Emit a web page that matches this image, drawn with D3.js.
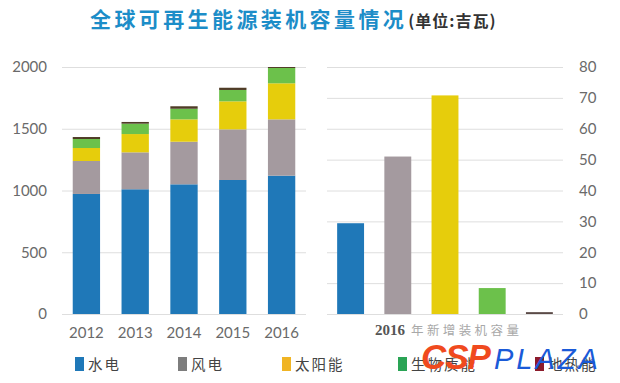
<!DOCTYPE html>
<html>
<head>
<meta charset="utf-8">
<script src="https://cdn.jsdelivr.net/npm/d3@7"></script>
<style>
  html, body { margin: 0; padding: 0; background: #fff; }
  svg { display: block; }
</style>
</head>
<body>
<svg id="chart" width="620" height="383"></svg>
<script>
// ---- data ----
const years = ["2012", "2013", "2014", "2015", "2016"];
const seriesNames = ["水电", "风电", "太阳能", "生物质能", "地热能"];
const hydro = [972, 1010, 1050, 1085, 1120];
const wind = [267, 299, 345, 410, 456];
const solar = [105, 148, 181, 227, 292];
const biomass = [73, 84, 86, 92, 124];
const geothermal = [16, 14, 20, 18, 8];
const added2016 = [29.4, 51, 70.8, 8.4, 0.6];
const leftTicks = [0, 500, 1000, 1500, 2000];
const rightTicks = [0, 10, 20, 30, 40, 50, 60, 70, 80];
const titleMain = "全球可再生能源装机容量情况";
const titleUnit = "(单位:吉瓦)";
const rightLabelYear = "2016";
const rightLabelText = "年新增装机容量";

// ---- styles / layout ----
const barColors = ["#1f78b8", "#a49a9f", "#e6cd0c", "#6cc14b", "#4f3c26"];
const rightBarColors = ["#1f78b8", "#a49a9f", "#e6cd0c", "#6cc14b", "#5b4a47"];
const legendColors = ["#1f78b8", "#7d7d7d", "#f0b424", "#2aa455", "#8c1b2b"];
const legendX = [75, 178, 282, 398, 535];
const numFont = "Lato, 'Open Sans', sans-serif";

const svg = d3.select("#chart");
const seriesValues = [hydro, wind, solar, biomass, geothermal];
const table = years.map((y, i) => {
  const o = { year: y };
  seriesNames.forEach((s, j) => { o[s] = seriesValues[j][i]; });
  return o;
});
const stacked = d3.stack().keys(seriesNames)(table);

const yL = d3.scaleLinear().domain([0, 2000]).range([314, 67]);
const yR = d3.scaleLinear().domain([0, 80]).range([314, 67]);
const xL = d3.scaleBand().domain(years).range([62, 306]).paddingInner(0.44).paddingOuter(0.22);
const xR = d3.scaleBand().domain(seriesNames).range([327, 563]).paddingInner(0.43).paddingOuter(0.215);

// left axis with gridlines
const gL = svg.append("g").attr("transform", "translate(62,0)")
  .call(d3.axisLeft(yL).tickValues(leftTicks).tickFormat(d3.format("d")).tickSize(-(306 - 62)).tickPadding(15));
gL.select(".domain").remove();
gL.selectAll(".tick line").attr("stroke", "#dedede");
gL.selectAll(".tick text").attr("fill", "#6a6a6a").style("font-family", numFont).style("font-size", "15px");

// right axis with gridlines
const gR = svg.append("g").attr("transform", "translate(563,0)")
  .call(d3.axisRight(yR).tickValues(rightTicks).tickFormat(d3.format("d")).tickSize(-(563 - 327)).tickPadding(16));
gR.select(".domain").remove();
gR.selectAll(".tick line").attr("stroke", "#dedede");
gR.selectAll(".tick text").attr("fill", "#6a6a6a").style("font-family", numFont).style("font-size", "15px");

// stacked bars
svg.append("g").selectAll("g").data(stacked).join("g")
  .attr("fill", (d, i) => barColors[i])
  .selectAll("rect").data(d => d).join("rect")
  .attr("x", d => xL(d.data.year))
  .attr("width", xL.bandwidth())
  .attr("y", d => yL(d[1]))
  .attr("height", d => yL(d[0]) - yL(d[1]));

// right bars
svg.append("g").selectAll("rect").data(added2016).join("rect")
  .attr("x", (d, i) => xR(seriesNames[i]))
  .attr("width", xR.bandwidth())
  .attr("y", d => yR(d))
  .attr("height", d => yR(0) - yR(d))
  .attr("fill", (d, i) => rightBarColors[i]);

// x labels left
const gX = svg.append("g").attr("transform", "translate(0,314)")
  .call(d3.axisBottom(xL).tickSize(0).tickPadding(13));
gX.select(".domain").remove();
gX.selectAll(".tick text").attr("fill", "#6a6a6a").style("font-family", numFont).style("font-size", "15px");

// right chart label
const rl = svg.append("text").attr("x", 375).attr("y", 335);
rl.append("tspan").text(rightLabelYear)
  .attr("fill", "#555").style("font-family", "'Liberation Serif', serif")
  .style("font-weight", "bold").style("font-size", "15px");
rl.append("tspan").text(rightLabelText).attr("dx", 6)
  .attr("fill", "#a8a8a8").style("font-family", "'Noto Sans CJK SC', sans-serif")
  .style("font-size", "12.5px").style("letter-spacing", "3.4px");

// title
const t = svg.append("text").attr("x", 90).attr("y", 27);
t.append("tspan").text(titleMain)
  .attr("fill", "#1c8dc8").style("font-family", "'Noto Sans CJK SC', sans-serif")
  .style("font-weight", "bold").style("font-size", "21px").style("letter-spacing", "3.4px");
t.append("tspan").text(titleUnit).attr("dx", 1)
  .attr("fill", "#333").style("font-family", "'Noto Sans CJK SC', sans-serif")
  .style("font-weight", "bold").style("font-size", "16px").style("letter-spacing", "1px");

// legend
const lg = svg.append("g").selectAll("g").data(seriesNames).join("g")
  .attr("transform", (d, i) => `translate(${legendX[i]},357)`);
lg.append("rect").attr("width", 9).attr("height", 14).attr("fill", (d, i) => legendColors[i]);
lg.append("text").attr("x", 13).attr("y", 12.5).text(d => d)
  .attr("fill", "#444").style("font-family", "'Noto Sans CJK SC', sans-serif")
  .style("font-size", "14.5px").style("letter-spacing", "2px");

// watermark (overlaps the legend, as in the reference)
const wm = svg.append("text").attr("x", 421).attr("y", 369);
wm.append("tspan").text("CSP").attr("fill", "#f04a1e")
  .style("font-family", "'Liberation Sans', Arial, sans-serif").style("font-weight", "900")
  .style("font-style", "italic").style("font-size", "35px").style("letter-spacing", "-1px");
wm.append("tspan").text("PLAZA").attr("dx", 4).attr("fill", "#1a5ad8")
  .style("font-family", "'Liberation Sans', Arial, sans-serif").style("font-weight", "normal")
  .style("font-style", "italic").style("font-size", "29px").style("letter-spacing", "3px");
</script>
</body>
</html>
